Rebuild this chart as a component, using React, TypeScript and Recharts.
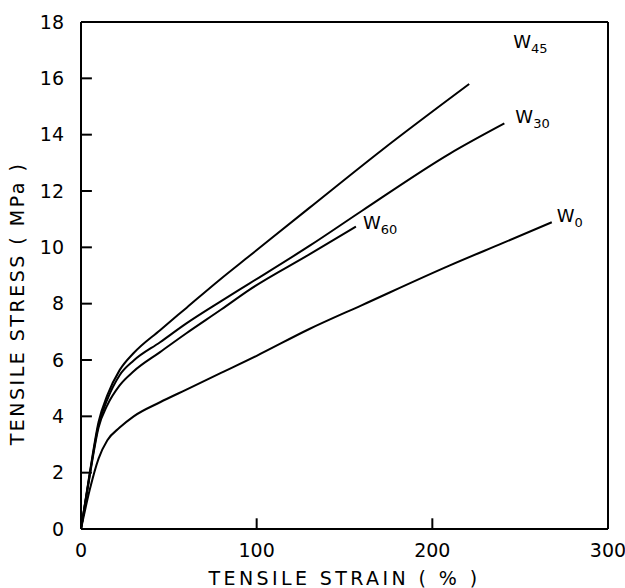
import { LineChart, Line, XAxis, YAxis, ReferenceLine } from 'recharts';

const w45Strain = [0, 5, 10, 15, 22, 30, 45, 60, 79, 96, 130, 171, 221];
const w45Stress = [0, 2.0, 3.8, 4.75, 5.64, 6.25, 7.06, 7.85, 8.85, 9.7, 11.4, 13.44, 15.8];

const w30Strain = [0, 5, 10, 15, 22, 30, 45, 60, 80, 96, 130, 160, 210, 241];
const w30Stress = [0, 1.95, 3.7, 4.6, 5.46, 5.98, 6.63, 7.3, 8.1, 8.72, 10.05, 11.3, 13.33, 14.4];

const w60Strain = [0, 5, 10, 15, 22, 30, 45, 60, 80, 96, 130, 156.5];
const w60Stress = [0, 1.9, 3.6, 4.4, 5.1, 5.6, 6.28, 6.95, 7.8, 8.5, 9.75, 10.74];

const w0Strain = [0, 5, 10, 15, 22, 30, 45, 60, 80, 100, 130, 160, 210, 240, 268];
const w0Stress = [0, 1.4, 2.5, 3.15, 3.6, 4.0, 4.5, 4.95, 5.55, 6.15, 7.1, 7.95, 9.36, 10.15, 10.89];

const xTicks = [0, 100, 200, 300];
const yTicks = [0, 2, 4, 6, 8, 10, 12, 14, 16, 18];

const toPoints = (xs: number[], ys: number[]) => xs.map((x, i) => ({ x, y: ys[i] }));

const series = [
  { name: '45', data: toPoints(w45Strain, w45Stress), dx: 44, dy: -36 },
  { name: '30', data: toPoints(w30Strain, w30Stress), dx: 11, dy: 0 },
  { name: '60', data: toPoints(w60Strain, w60Stress), dx: 7, dy: 3 },
  { name: '0', data: toPoints(w0Strain, w0Stress), dx: 5, dy: 0 },
];

const FONT = '"DejaVu Sans", sans-serif';
// inward tick lengths in axis units (~11px)
const Y_TICK_LEN = 6.2;
const X_TICK_LEN = 0.38;

const makeLabel = (name: string, last: number, dx: number, dy: number) => (props: any) => {
  if (props.index !== last) return null;
  return (
    <text x={props.x + dx} y={props.y + dy} fontSize={18} fontFamily={FONT} fill="#000">
      W
      <tspan fontSize={13} dy={5}>
        {name}
      </tspan>
    </text>
  );
};

export default function App() {
  return (
    <div style={{ position: 'absolute', left: 0, top: 0, background: '#fff' }}>
      <LineChart width={625} height={588} margin={{ top: 22, right: 17, bottom: 0, left: 21 }}>
        <XAxis
          type="number"
          dataKey="x"
          domain={[0, 300]}
          ticks={xTicks}
          tick={{ fontSize: 19, fontFamily: FONT, fill: '#000' }}
          tickLine={false}
          tickMargin={9}
          axisLine={{ stroke: '#000', strokeWidth: 2 }}
          height={59}
          label={{
            value: 'TENSILE STRAIN ( % )',
            position: 'insideBottom',
            offset: 0,
            dy: -3,
            style: { fontSize: 19, fontFamily: FONT, fill: '#000', letterSpacing: 3.4 },
          }}
        />
        <YAxis
          type="number"
          domain={[0, 18]}
          ticks={yTicks}
          tick={{ fontSize: 19, fontFamily: FONT, fill: '#000' }}
          tickLine={false}
          tickMargin={11}
          axisLine={{ stroke: '#000', strokeWidth: 2 }}
          width={60}
          label={{
            value: 'TENSILE STRESS ( MPa )',
            angle: -90,
            position: 'insideLeft',
            offset: 0,
            dx: -4,
            dy: 28,
            style: { fontSize: 19, fontFamily: FONT, fill: '#000', letterSpacing: 2.5, textAnchor: 'middle' },
          }}
        />
        <ReferenceLine y={18} stroke="#000" strokeWidth={2} ifOverflow="visible" />
        <ReferenceLine x={300} stroke="#000" strokeWidth={2} ifOverflow="visible" />
        {yTicks.slice(1, -1).map((v) => (
          <ReferenceLine
            key={`yt-${v}`}
            segment={[{ x: 0, y: v }, { x: Y_TICK_LEN, y: v }]}
            stroke="#000"
            strokeWidth={2}
            ifOverflow="visible"
          />
        ))}
        {xTicks.slice(1, -1).map((v) => (
          <ReferenceLine
            key={`xt-${v}`}
            segment={[{ x: v, y: 0 }, { x: v, y: X_TICK_LEN }]}
            stroke="#000"
            strokeWidth={2}
            ifOverflow="visible"
          />
        ))}
        {series.map((s) => (
          <Line
            key={s.name}
            data={s.data}
            dataKey="y"
            type="monotone"
            stroke="#000"
            strokeWidth={2}
            dot={false}
            isAnimationActive={false}
            label={makeLabel(s.name, s.data.length - 1, s.dx, s.dy)}
          />
        ))}
      </LineChart>
    </div>
  );
}
